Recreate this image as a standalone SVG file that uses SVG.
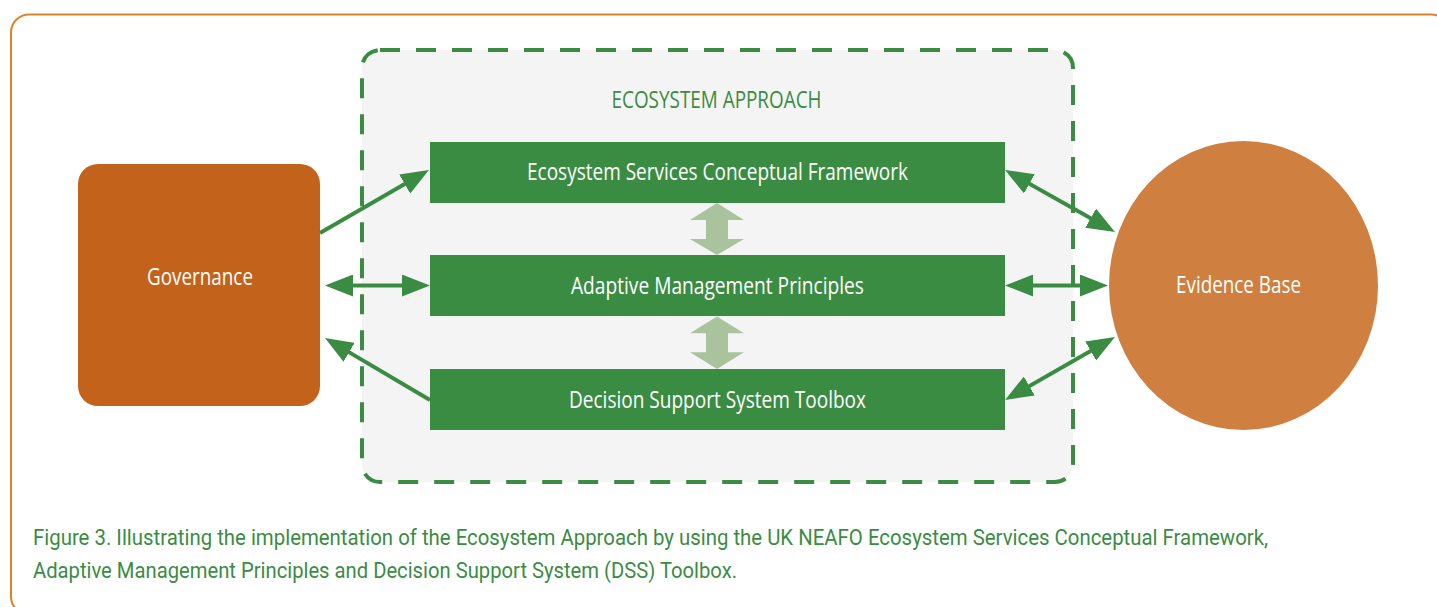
<svg xmlns="http://www.w3.org/2000/svg" width="1437" height="607" viewBox="0 0 1437 607">
<style>
.lbl{font-family:"Open Sans","Liberation Sans",sans-serif;font-size:23px;fill:#ffffff;text-anchor:middle}
.grn{font-family:"Open Sans","Liberation Sans",sans-serif;font-size:23px;fill:#3B8C43}
.cap{font-family:Roboto,"Liberation Sans",sans-serif;font-size:22px;fill:#3B8C43}
.box{fill:#3B8C43}
.conn{stroke:#3B8C43;stroke-width:4;fill:none}
.vdbl{fill:#A9C49D}
</style>
<defs>
<marker id="ah" viewBox="0 0 28 22" markerWidth="28" markerHeight="22" refX="18" refY="11" markerUnits="userSpaceOnUse" orient="auto-start-reverse">
<path d="M0,0 L28,11 L0,22 z" fill="#3B8C43"/>
</marker>
</defs>
<rect x="11" y="14.5" width="1438" height="600" rx="18" fill="#ffffff" stroke="#D98324" stroke-width="2"/>
<g id="ecosystem-approach">
<rect x="362" y="50" width="711" height="432" rx="18" fill="#F4F4F4" stroke="#3B8C43" stroke-width="4" stroke-dasharray="20 16"/>
<text class="grn" x="611.5" y="108.3" textLength="210" lengthAdjust="spacingAndGlyphs">ECOSYSTEM APPROACH</text>
</g>
<g id="governance">
<rect x="78" y="164" width="242" height="242" rx="20" fill="#C3621B"/>
<text class="lbl" x="200" y="285" textLength="106" lengthAdjust="spacingAndGlyphs">Governance</text>
</g>
<g id="evidence-base">
<ellipse cx="1243.5" cy="285.5" rx="134.5" ry="144.5" fill="#CF7F40"/>
<text class="lbl" x="1238.5" y="293.3" textLength="125" lengthAdjust="spacingAndGlyphs">Evidence Base</text>
</g>
<g id="es-framework">
<rect class="box" x="430" y="142" width="575" height="61"/>
<text class="lbl" x="717.5" y="180.3" textLength="381" lengthAdjust="spacingAndGlyphs">Ecosystem Services Conceptual Framework</text>
</g>
<g id="adaptive-management">
<rect class="box" x="430" y="255" width="575" height="61"/>
<text class="lbl" x="717.5" y="293.5" textLength="293" lengthAdjust="spacingAndGlyphs">Adaptive Management Principles</text>
</g>
<g id="dss-toolbox">
<rect class="box" x="430" y="369" width="575" height="61"/>
<text class="lbl" x="717.5" y="407.5" textLength="297" lengthAdjust="spacingAndGlyphs">Decision Support System Toolbox</text>
</g>
<g id="connectors">
<line class="conn" x1="320" y1="233" x2="420.3" y2="175" marker-end="url(#ah)"/>
<line class="conn" x1="335" y1="285.5" x2="420" y2="285.5" marker-start="url(#ah)" marker-end="url(#ah)"/>
<line class="conn" x1="430" y1="400" x2="333.6" y2="343.1" marker-end="url(#ah)"/>
<line class="conn" x1="1013.7" y1="174.9" x2="1106.3" y2="227.1" marker-start="url(#ah)" marker-end="url(#ah)"/>
<line class="conn" x1="1015" y1="285.5" x2="1098" y2="285.5" marker-start="url(#ah)" marker-end="url(#ah)"/>
<line class="conn" x1="1013.7" y1="395" x2="1106.3" y2="342" marker-start="url(#ah)" marker-end="url(#ah)"/>
<polygon class="vdbl" points="717,203 744,220 728,220 728,239 744,239 717,255 690,239 706,239 706,220 690,220"/>
<polygon class="vdbl" points="717,316.5 744,333.3 728,333.3 728,352.3 744,352.3 717,369 690,352.3 706,352.3 706,333.3 690,333.3"/>
</g>
<g id="caption">
<text class="cap" x="33" y="545" textLength="1235" lengthAdjust="spacingAndGlyphs">Figure 3. Illustrating the implementation of the Ecosystem Approach by using the UK NEAFO Ecosystem Services Conceptual Framework,</text>
<text class="cap" x="33" y="577.5" textLength="704" lengthAdjust="spacingAndGlyphs">Adaptive Management Principles and Decision Support System (DSS) Toolbox.</text>
</g>
</svg>
